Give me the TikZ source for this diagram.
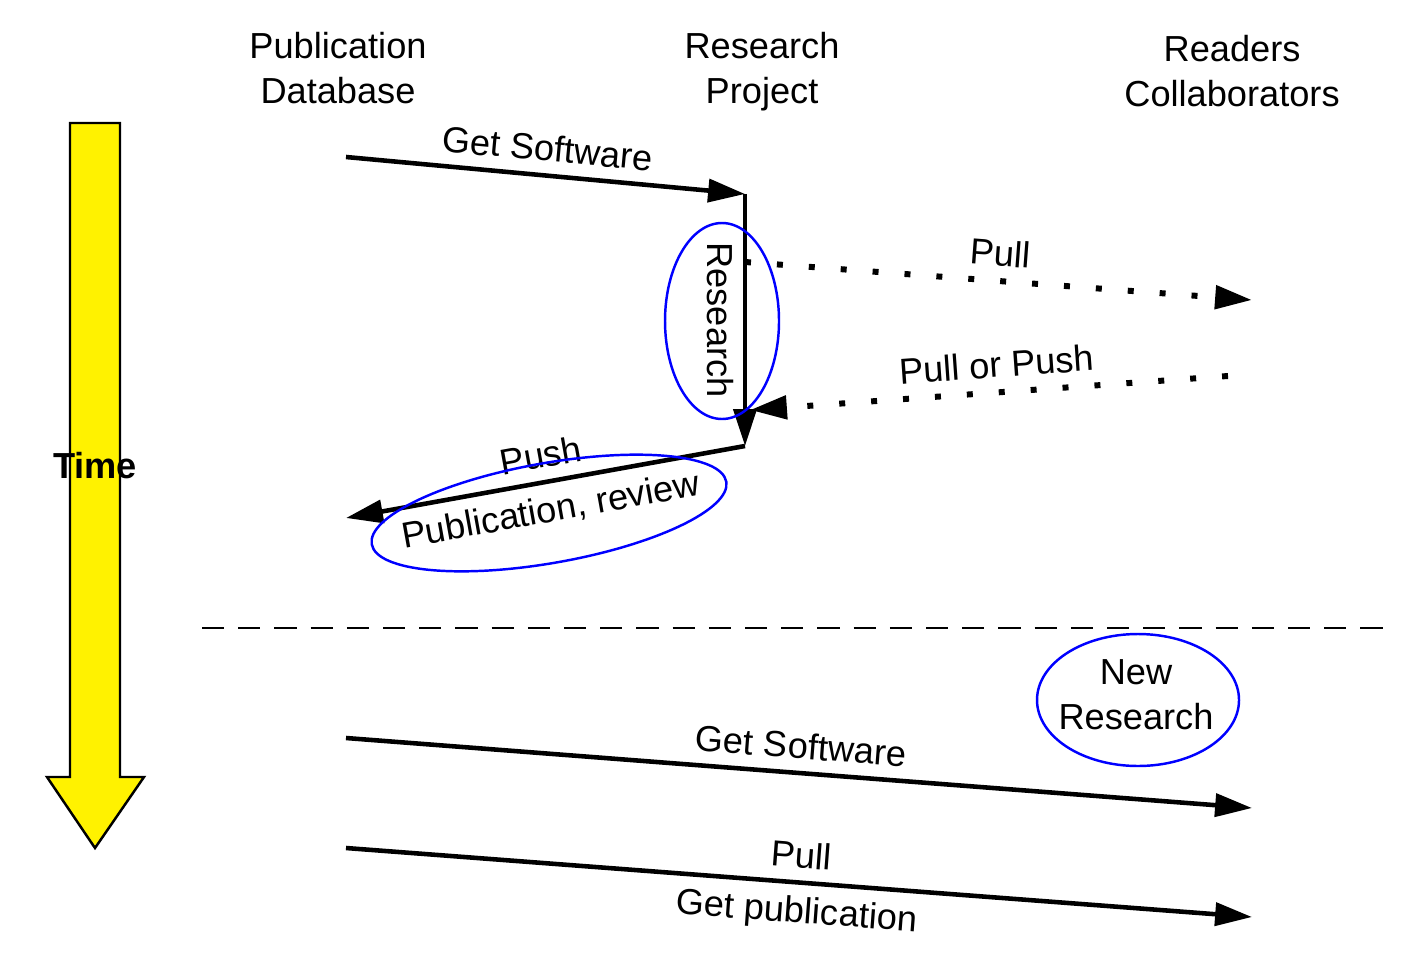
\documentclass[tikz,border=0pt]{standalone}
\usepackage{fontspec}
\setmainfont{Liberation Sans}
\usetikzlibrary{arrows.meta}

\begin{document}
\begin{tikzpicture}[line width=1.3pt,>={Triangle[length=10.5pt,width=6.5pt]},
        every node/.style={font=\fontsize{10.3pt}{12.8pt}\selectfont},
        head/.style={align=center},
        dots/.style={->,line width=1.7pt,dash pattern=on 1.7pt off 7.4pt},
        ring/.style={blue,line width=0.7pt}]
        \pgfmathsetmacro{\xl}{3.46}
        \pgfmathsetmacro{\xm}{7.45}
        \pgfmathsetmacro{\xr}{12.52}

        \useasboundingbox (0,0) rectangle (14.04,9.52);

        % time axis
        \draw[fill=yellow,line width=0.7pt] (0.70,8.29) -- (1.20,8.29) -- (1.20,1.75) -- (1.44,1.75)
                -- (0.95,1.04) -- (0.47,1.75) -- (0.70,1.75) -- cycle;
        \node[font=\fontsize{10.3pt}{12.8pt}\selectfont\bfseries] (time) at (0.95,4.86) {Time};

        \node[head] (pubdb) at (3.38,8.84) {Publication\\Database};
        \node[head] (resproj) at (7.62,8.80) {Research\\Project};
        \node[head] (readers) at (12.32,8.81) {Readers\\Collaborators};

        \coordinate (P1) at (\xl,7.95);
        \coordinate (R1) at (\xm,7.58);
        \coordinate (R2) at (\xm,5.06);
        \coordinate (P2) at (\xl,4.34);
        \coordinate (R3) at (\xm,6.90);
        \coordinate (C1) at (\xr,6.52);
        \coordinate (C2) at (12.28,5.76);
        \coordinate (R4) at (7.50,5.42);

        \draw[->] (P1) -- node[above,sloped] (getsw) {Get Software} (R1);
        \draw[->] (R1) -- (R2);
        \node[rotate=-90] (research) at (7.20,6.32) {Research};
        \draw[ring] (7.22,6.31) ellipse (0.57 and 0.98);

        \draw[dots] (R3) -- node[above,sloped] (pull) {Pull} (C1);
        \draw[dots] (C2) -- node[pos=0.48,above,sloped] (pullpush) {Pull or Push} (R4);

        \draw[->] (R2) -- node[above,sloped] (push) {Push}
                node[below,sloped] (pub) {Publication, review} (P2);
        \draw[ring,rotate around={10:(5.49,4.39)}] (5.49,4.39) ellipse (1.80 and 0.50);

        \draw[line width=0.6pt,dash pattern=on 6.3pt off 4pt] (2.02,3.24) -- (13.90,3.24);

        \node[head] (newres) at (11.36,2.57) {New\\Research};
        \draw[ring] (11.38,2.52) ellipse (1.01 and 0.66);

        \coordinate (P3) at (\xl,2.14);
        \coordinate (C3) at (\xr,1.44);
        \coordinate (P4) at (\xl,1.04);
        \coordinate (C4) at (\xr,0.35);

        \draw[->] (P3) -- node[above,sloped] (getsw2) {Get Software} (C3);
        \draw[->] (P4) -- node[above,sloped] (pull2) {Pull}
                node[below,sloped] (getpub) {Get publication} (C4);

    \end{tikzpicture}
\end{document}
